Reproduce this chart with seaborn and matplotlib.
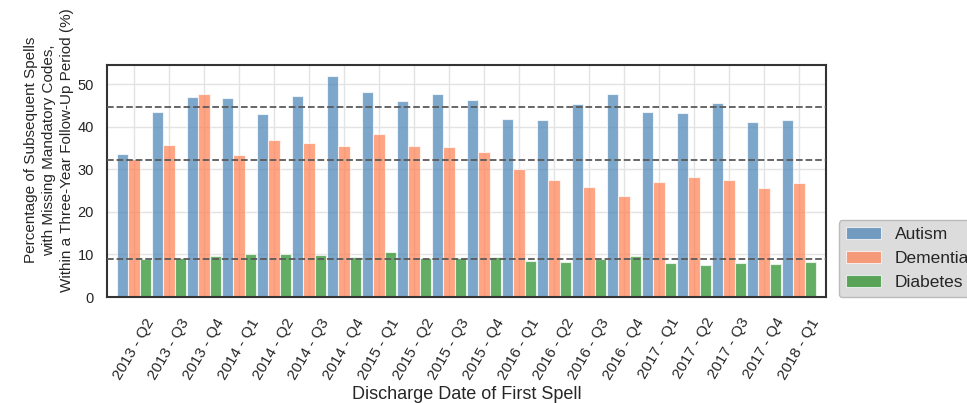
import numpy as np
import pandas as pd
import matplotlib
matplotlib.use('Agg')
import matplotlib.pyplot as plt
import seaborn as sns

quarters = ['2013 - Q2', '2013 - Q3', '2013 - Q4',
            '2014 - Q1', '2014 - Q2', '2014 - Q3', '2014 - Q4',
            '2015 - Q1', '2015 - Q2', '2015 - Q3', '2015 - Q4',
            '2016 - Q1', '2016 - Q2', '2016 - Q3', '2016 - Q4',
            '2017 - Q1', '2017 - Q2', '2017 - Q3', '2017 - Q4',
            '2018 - Q1']
autism = [33.6, 43.5, 47.0, 46.8, 42.9, 47.2, 51.8, 48.2, 46.0, 47.6,
          46.2, 41.8, 41.5, 45.4, 47.7, 43.5, 43.2, 45.6, 41.0, 41.5]
dementia = [32.5, 35.8, 47.8, 33.3, 36.8, 36.2, 35.5, 38.2, 35.4, 35.3,
            34.1, 30.0, 27.5, 25.8, 23.7, 27.1, 28.1, 27.6, 25.6, 26.8]
diabetes = [8.9, 9.2, 9.6, 10.0, 10.1, 9.9, 9.4, 10.5, 9.2, 9.2,
            9.5, 8.5, 8.2, 8.9, 9.6, 8.0, 7.6, 8.1, 7.7, 8.2]
conditions = ['Autism', 'Dementia', 'Diabetes']
colors = ['steelblue', 'coral', 'forestgreen']

df = pd.DataFrame({'Quarter': quarters, 'Autism': autism,
                   'Dementia': dementia, 'Diabetes': diabetes})
long_df = df.melt(id_vars='Quarter', var_name='Condition', value_name='Pct')

sns.set_style('whitegrid')
plt.rcParams['font.family'] = ['Liberation Sans', 'DejaVu Sans']

fig = plt.figure(figsize=(9.67, 4.03), dpi=100)
ax = fig.add_axes([0.1107, 0.263, 0.7435, 0.5757])

sns.barplot(data=long_df, x='Quarter', y='Pct', hue='Condition',
            hue_order=conditions, palette=colors, saturation=1, alpha=0.7,
            width=0.97, gap=0, edgecolor='white', linewidth=0.8,
            ax=ax, zorder=2)

# mean reference line for each condition
for series in [autism, dementia, diabetes]:
    ax.axhline(np.mean(series), color='#5a5a5a', linestyle='--',
               linewidth=1.3, zorder=5)

ax.set_xlim(-0.77, 19.77)
ax.set_ylim(0, 54.5)
ax.set_yticks([0, 10, 20, 30, 40, 50])
ax.tick_params(axis='y', labelsize=10.5, pad=6)
ax.tick_params(axis='x', labelsize=11, rotation=60, pad=10)
ax.grid(True, color='#e3e3e3', linewidth=1, zorder=0)
ax.set_axisbelow(True)
for sp in ax.spines.values():
    sp.set_color('#333333')
    sp.set_linewidth(1.5)

ax.set_xlabel('Discharge Date of First Spell', fontsize=13, labelpad=3)
ax.set_ylabel('Percentage of Subsequent Spells\nwith Missing Mandatory Codes,\n'
              'Within a Three-Year Follow-Up Period (%)', fontsize=11,
              linespacing=1.35)
ax.yaxis.set_label_coords(-0.046, 0.634)

leg = ax.legend(loc='lower left', bbox_to_anchor=(1.018, 0), borderaxespad=0,
                fontsize=12.5, frameon=True, framealpha=1)
leg.get_frame().set_facecolor('#dcdcdc')
leg.get_frame().set_edgecolor('#bbbbbb')

fig.savefig('out.png', dpi=100)
